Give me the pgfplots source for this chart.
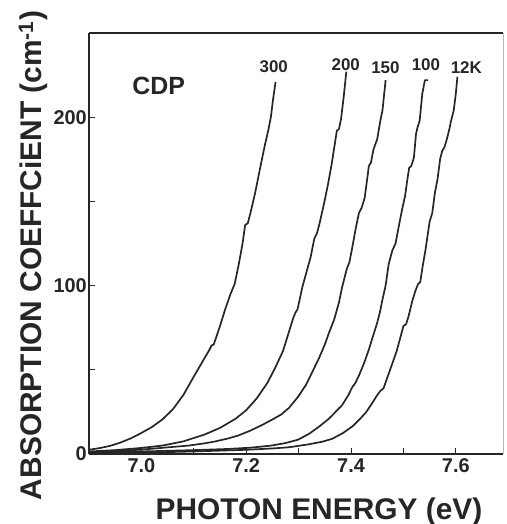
\documentclass[border=0pt]{standalone}
\usepackage{fontspec}
\setmainfont{Liberation Sans}
\usepackage{pgfplots}
\pgfplotsset{compat=1.18}
\definecolor{ink}{gray}{0.15}
\tikzset{curve/.style={draw=ink, line width=1.7bp, line join=round, mark=none}}
\begin{document}
\begin{tikzpicture}
\useasboundingbox (0,0) rectangle (507bp,524bp);
\begin{axis}[
  at={(89bp,70bp)}, anchor=south west,
  scale only axis, width=414bp, height=421bp,
  xmin=6.9, xmax=7.69, ymin=0, ymax=250,
  clip=false,
  axis lines*=left,
  axis line style={-, draw=ink, line width=1.6bp},
  xtick={7.0,7.2,7.4,7.6}, minor xtick={7.1,7.3,7.5},
  xticklabels={7.0,7.2,7.4,7.6},
  ytick={0,100,200}, minor ytick={50,150},
  tick align=inside,
  major tick length=6bp, minor tick length=6bp,
  every tick/.style={draw=ink, line width=1bp},
  tick label style={font=\fontsize{20}{24}\selectfont\bfseries, text=ink},
  yticklabel style={inner sep=2bp},
  xticklabel style={yshift=-1.5bp},
  /pgf/number format/assume math mode=true,
  xlabel={PHOTON ENERGY (eV)},
  ylabel={ABSORPTION COEFFC{i}ENT (cm\textsuperscript{-1})},
  label style={font=\fontsize{30}{36}\selectfont\bfseries, text=ink},
  xlabel style={at={([yshift=-65bp]axis description cs:0.5556,0)}, anchor=base},
  ylabel style={at={([xshift=-47bp]axis description cs:0,0.4715)}, anchor=base},
]
\draw[ink, line width=1.6bp] (rel axis cs:0,1) -- (rel axis cs:1,1);
\draw[gray!55, line width=0.8bp] (rel axis cs:1,0) -- (rel axis cs:1,1);

% 300 K
\addplot[curve] coordinates {
(6.900,2.5) (6.920,3.5) (6.940,4.8) (6.960,6.8) (6.980,9.3) (7.000,12.5)
(7.020,16) (7.040,20.5) (7.060,26.5) (7.080,35) (7.100,46) (7.115,54)
(7.130,62) (7.134,64.5) (7.138,65) (7.150,76) (7.160,86) (7.170,95)
(7.178,101) (7.186,113) (7.193,125) (7.198,136) (7.203,137) (7.208,143)
(7.217,155) (7.226,169) (7.236,184) (7.242,192) (7.247,200) (7.251,210)
(7.256,221)
};
% 200 K
\addplot[curve] coordinates {
(6.900,1.5) (6.950,2.3) (7.000,3.6) (7.040,5) (7.080,7.5) (7.120,11.5)
(7.150,15.5) (7.180,21) (7.200,26) (7.220,33) (7.240,42) (7.255,51)
(7.270,61) (7.282,73) (7.290,81) (7.294,84) (7.298,86) (7.307,99)
(7.315,108) (7.323,117) (7.330,128) (7.335,131) (7.340,137) (7.348,148)
(7.356,160) (7.363,172) (7.369,184) (7.373,192) (7.377,193) (7.381,199)
(7.386,212) (7.391,227)
};
% 150 K
\addplot[curve] coordinates {
(6.900,1) (6.950,1.8) (7.000,2.6) (7.030,3.4) (7.060,4.2) (7.090,5)
(7.120,6.3) (7.140,7.4) (7.165,9.2) (7.185,11) (7.205,13.5) (7.229,17)
(7.250,20.5) (7.267,23.5) (7.282,27.5) (7.299,34) (7.314,41) (7.325,48)
(7.339,57) (7.350,65) (7.358,72) (7.368,80) (7.377,90) (7.383,99)
(7.392,110) (7.397,114) (7.402,122) (7.409,134) (7.415,143) (7.420,146)
(7.426,152) (7.432,166) (7.434,171) (7.438,173) (7.443,181) (7.450,187)
(7.456,198) (7.460,204) (7.466,222)
};
% 100 K
\addplot[curve] coordinates {
(6.900,1) (7.000,1.5) (7.100,2.3) (7.166,3) (7.210,3.8) (7.248,5)
(7.275,6.5) (7.299,8.5) (7.320,12) (7.340,16.5) (7.358,21) (7.372,25.5)
(7.383,29) (7.395,35) (7.403,40) (7.408,42) (7.415,46.5) (7.425,54)
(7.434,62) (7.442,70) (7.450,78) (7.455,84) (7.460,91.7) (7.466,100)
(7.472,113) (7.479,121) (7.485,125) (7.491,135) (7.498,146) (7.503,153)
(7.508,164) (7.511,170) (7.515,171) (7.520,176) (7.524,190) (7.527,194)
(7.531,198) (7.536,214) (7.541,222) (7.547,222)
};
% 12 K
\addplot[curve] coordinates {
(6.900,0.5) (7.000,0.8) (7.100,1.5) (7.200,2.5) (7.250,3.3) (7.282,4)
(7.320,5.8) (7.345,7.3) (7.364,9) (7.385,12.5) (7.403,16.5) (7.416,20.5)
(7.428,24.5) (7.440,30) (7.450,35) (7.456,37.5) (7.462,39) (7.470,46)
(7.478,53) (7.487,61) (7.494,69) (7.500,76) (7.505,77) (7.510,82)
(7.517,91) (7.523,97) (7.528,101) (7.532,102) (7.537,112) (7.542,121)
(7.550,138) (7.555,143) (7.560,155) (7.565,163) (7.570,175) (7.574,180)
(7.578,182) (7.582,186) (7.587,192) (7.591,198) (7.596,204) (7.600,214)
(7.603,224)
};

\node[font=\fontsize{17}{20}\selectfont\bfseries, text=ink] at (axis cs:7.2526,230) {300};
\node[font=\fontsize{17}{20}\selectfont\bfseries, text=ink] at (axis cs:7.390,231) {200};
\node[font=\fontsize{17}{20}\selectfont\bfseries, text=ink] at (axis cs:7.4657,229.5) {150};
\node[font=\fontsize{17}{20}\selectfont\bfseries, text=ink] at (axis cs:7.543,231) {100};
\node[font=\fontsize{17}{20}\selectfont\bfseries, text=ink] at (axis cs:7.620,229.5) {12K};
\node[font=\fontsize{25}{30}\selectfont\bfseries, text=ink] at (axis cs:7.033,218.5) {CDP};
\end{axis}
\end{tikzpicture}
\end{document}
